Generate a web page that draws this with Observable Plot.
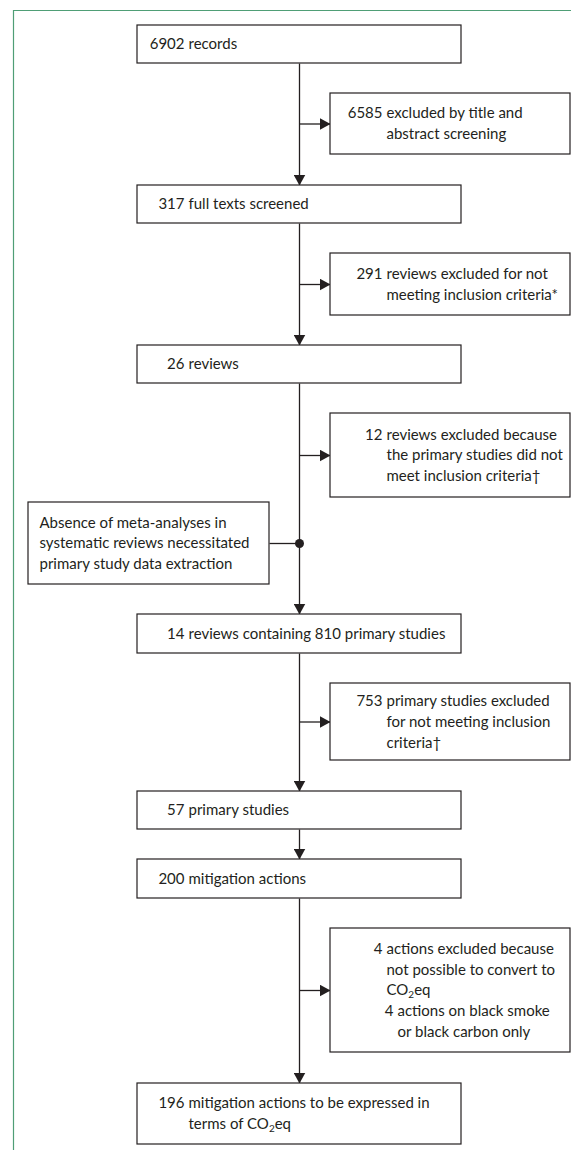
<!DOCTYPE html>
<html>
<head>
<meta charset="utf-8">
<script src="https://cdn.jsdelivr.net/npm/d3@7"></script>
<script src="https://cdn.jsdelivr.net/npm/@observablehq/plot@0.6"></script>
<style>
  html, body { margin: 0; padding: 0; background: #fff; }
  #chart { width: 571px; height: 1150px; overflow: hidden; }
</style>
</head>
<body>
<div id="chart"></div>
<script>
// ---------------- DATA ----------------
const stepCounts = ["6902", "317", "26", "14", "57", "200", "196"];
const stepLabels = [
  "records",
  "full texts screened",
  "reviews",
  "reviews containing 810 primary studies",
  "primary studies",
  "mitigation actions",
  "mitigation actions to be expressed in\nterms of CO_2eq"
];
const exclusionCounts = ["6585", "291", "12", "753", "4", "4"];
const exclusionLabels = [
  "excluded by title and\nabstract screening",
  "reviews excluded for not\nmeeting inclusion criteria*",
  "reviews excluded because\nthe primary studies did not\nmeet inclusion criteria†",
  "primary studies excluded\nfor not meeting inclusion\ncriteria†",
  "actions excluded because\nnot possible to convert to\nCO_2eq",
  "actions on black smoke\nor black carbon only"
];
const exclusionBox = [0, 1, 2, 3, 4, 4];          // which exclusion box each item sits in
const noteLabel = "Absence of meta-analyses in\nsystematic reviews necessitated\nprimary study data extraction";

// ---------------- LAYOUT ----------------
const W = 571, H = 1150;
const FONT = "Lato, 'Open Sans', sans-serif";
const FS = 15, LG = 20.8;
const ink = "#231f20", green = "#4f9e76";
const trunkX = 299;
const mainX = [137, 461], exclX = [330, 570], noteX = [28, 269];
const mainY = [[25, 63], [185, 223], [345, 383], [614, 653], [791, 829], [859, 898], [1083, 1144]];
const exclY = [[93, 154], [253, 315], [413, 497], [683, 760], [928, 1052]];
const noteY = [502, 584];
const mainNumEnd = 184, exclNumEnd = [382, 382, 382, 382, 382, 393];
const noteTextX = 39;

const cy = r => (r[0] + r[1]) / 2;
const splitLines = t => t.split("\n");

// boxes
const boxes = [
  ...mainY.map(r => ({x1: mainX[0], x2: mainX[1], y1: r[0], y2: r[1]})),
  ...exclY.map(r => ({x1: exclX[0], x2: exclX[1], y1: r[0], y2: r[1]})),
  {x1: noteX[0], x2: noteX[1], y1: noteY[0], y2: noteY[1]}
];

// every text line as its own datum (number right-aligned, body hanging-indented)
const nums = [], lines = [];
stepLabels.forEach((t, i) => {
  const ls = splitLines(t);
  const first = cy(mainY[i]) - (ls.length - 1) / 2 * LG;
  nums.push({x: mainNumEnd, y: first, text: stepCounts[i]});
  ls.forEach((l, j) => lines.push({x: mainNumEnd + 4, y: first + j * LG, text: l}));
});
exclY.forEach((r, b) => {
  const items = exclusionBox.map((bb, k) => bb === b ? k : -1).filter(k => k >= 0);
  const N = d3.sum(items, k => splitLines(exclusionLabels[k]).length);
  let line = 0;
  for (const k of items) {
    const ls = splitLines(exclusionLabels[k]);
    const first = cy(r) + (line - (N - 1) / 2) * LG;
    nums.push({x: exclNumEnd[k], y: first, text: exclusionCounts[k]});
    ls.forEach((l, j) => lines.push({x: exclNumEnd[k] + 4, y: first + j * LG, text: l}));
    line += ls.length;
  }
});
{
  const ls = splitLines(noteLabel);
  const first = cy(noteY) - (ls.length - 1) / 2 * LG;
  ls.forEach((l, j) => lines.push({x: noteTextX, y: first + j * LG, text: l}));
}

// connectors
const trunk = d3.range(mainY.length - 1).map(i => ({x1: trunkX, y1: mainY[i][1], x2: trunkX, y2: mainY[i + 1][0]}));
const side = exclY.map(r => ({x1: trunkX, y1: cy(r), x2: exclX[0], y2: cy(r)}));
const noteLink = [{x1: noteX[1], y1: cy(noteY), x2: trunkX, y2: cy(noteY)}];

function filledArrow(color) {
  const m = d3.create("svg:marker")
    .attr("viewBox", "0 -6 11 12")
    .attr("markerWidth", 11).attr("markerHeight", 12)
    .attr("refX", 11).attr("refY", 0)
    .attr("markerUnits", "userSpaceOnUse")
    .attr("orient", "auto")
    .attr("fill", color).attr("stroke", "none");
  m.append("path").attr("d", "M0,-6L11,0L0,6Z");
  return m.node();
}

const chart = Plot.plot({
  width: W, height: H,
  margin: 0,
  x: {domain: [0, W], range: [0, W], axis: null},
  y: {domain: [0, H], range: [0, H], axis: null},
  style: {fontFamily: FONT, background: "#fff", color: ink},
  marks: [
    Plot.ruleY([10], {x1: 13, x2: W, stroke: green, strokeWidth: 1.2}),
    Plot.ruleX([13], {y1: 10, y2: H, stroke: green, strokeWidth: 1.2}),
    Plot.link(trunk, {x1: "x1", y1: "y1", x2: "x2", y2: "y2", stroke: ink, strokeWidth: 1.3, markerEnd: filledArrow}),
    Plot.link(side, {x1: "x1", y1: "y1", x2: "x2", y2: "y2", stroke: ink, strokeWidth: 1.3, markerEnd: filledArrow}),
    Plot.link(noteLink, {x1: "x1", y1: "y1", x2: "x2", y2: "y2", stroke: ink, strokeWidth: 1.3}),
    Plot.dot(noteLink, {x: "x2", y: "y2", r: 4.5, fill: ink, stroke: null}),
    Plot.rect(boxes, {x1: "x1", x2: "x2", y1: "y1", y2: "y2", fill: "#fff", stroke: ink, strokeWidth: 1.2}),
    Plot.text(nums, {x: "x", y: "y", text: "text", textAnchor: "end", fontSize: FS, fill: ink}),
    Plot.text(lines, {x: "x", y: "y", text: "text", textAnchor: "start", fontSize: FS, fill: ink})
  ]
});

// subscript "2" in CO2eq
const walker = document.createTreeWalker(chart, NodeFilter.SHOW_TEXT);
const hits = [];
while (walker.nextNode()) if (walker.currentNode.nodeValue.includes("CO_2")) hits.push(walker.currentNode);
const NS = "http://www.w3.org/2000/svg";
for (const node of hits) {
  const [before, after] = node.nodeValue.split("CO_2");
  const parent = node.parentNode;
  const t0 = document.createTextNode(before + "CO");
  const sub = document.createElementNS(NS, "tspan");
  sub.setAttribute("dy", "3"); sub.setAttribute("font-size", "10"); sub.textContent = "2";
  const rest = document.createElementNS(NS, "tspan");
  rest.setAttribute("dy", "-3"); rest.textContent = after;
  parent.insertBefore(t0, node);
  parent.insertBefore(sub, node);
  parent.insertBefore(rest, node);
  parent.removeChild(node);
}

document.getElementById("chart").appendChild(chart);
</script>
</body>
</html>
